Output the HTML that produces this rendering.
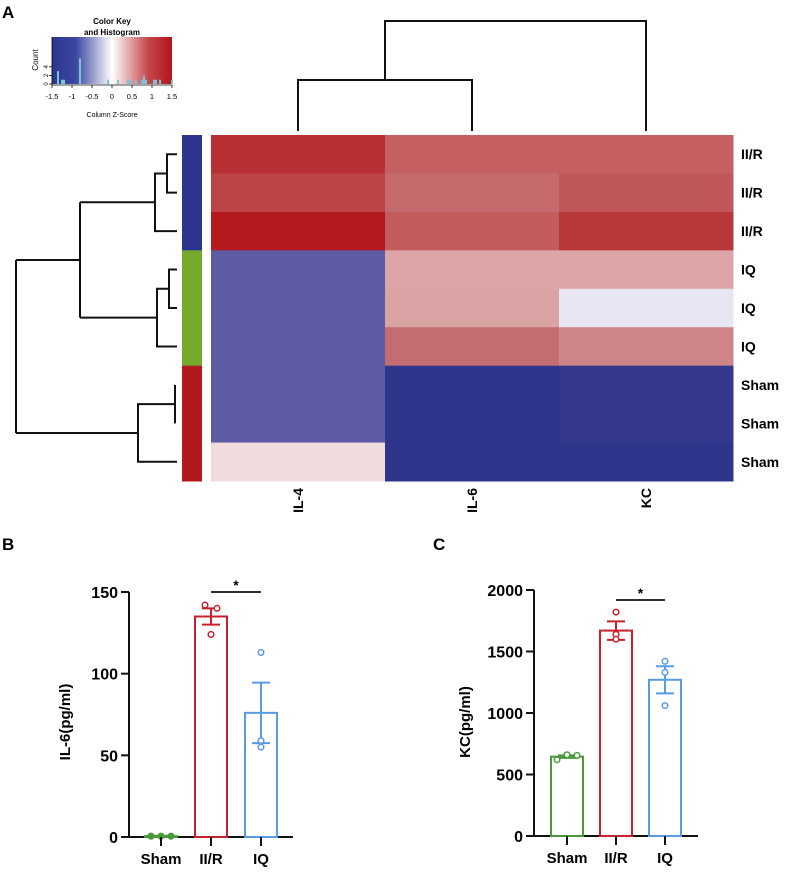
<!DOCTYPE html>
<html><head><meta charset="utf-8"><style>
body{margin:0;background:#fff;}
svg text{font-family:"Liberation Sans",Arial,sans-serif;}
</style></head><body>
<svg id="fig" width="790" height="871" viewBox="0 0 790 871" xmlns="http://www.w3.org/2000/svg">
<g id="panelA">
<text x="2" y="18" font-size="17" font-weight="bold">A</text>
<text x="112" y="24" font-size="8" font-weight="bold" text-anchor="middle">Color Key</text>
<text x="112" y="35" font-size="8" font-weight="bold" text-anchor="middle">and Histogram</text>
<defs><linearGradient id="cg" x1="0" x2="1"><stop offset="0" stop-color="#2b3590"/><stop offset="0.2" stop-color="#3c47a0"/><stop offset="0.5" stop-color="#ffffff"/><stop offset="0.8" stop-color="#c5474c"/><stop offset="1" stop-color="#b2151c"/></linearGradient></defs>
<rect x="52" y="37" width="120" height="47" fill="url(#cg)"/>
<g id="hist"></g>
<line x1="52" y1="37" x2="52" y2="85" stroke="#000" stroke-width="0.8"/>
<line x1="52" y1="85" x2="172" y2="85" stroke="#000" stroke-width="0.8"/>
<text x="38" y="60" font-size="8" text-anchor="middle" transform="rotate(-90 38 60)">Count</text>
<text x="112" y="117" font-size="7" text-anchor="middle">Column Z-Score</text>
<g id="dendro" fill="none" stroke="#111" stroke-width="2"></g>
<g id="heat"></g>
</g>
<g id="panelB"><text x="2" y="550" font-size="17" font-weight="bold">B</text></g>
<g id="panelC"><text x="433" y="550" font-size="17" font-weight="bold">C</text></g>
</svg>
<script>
const NS="http://www.w3.org/2000/svg";
function mk(p,t,a,txt){const e=document.createElementNS(NS,t);for(const k in a)e.setAttribute(k,a[k]);if(txt!==undefined)e.textContent=txt;p.appendChild(e);return e;}

// Color key histogram data
const histZ=[-1.35,-1.25,-1.2,-0.8,-0.1,0.15,0.4,0.45,0.6,0.75,0.8,0.85,1.05,1.1,1.2,1.5];
const histCount=[3,1,1,6,1,1,1,1,1,1,2,1,1,1,1,1];
const keyTicks=[-1.5,-1,-0.5,0,0.5,1,1.5];
const countTicks=[0,2,4];
const kx=z=>52+(z+1.5)*40, ky=c=>84-c*4.3;
const hist=document.getElementById('hist');
histZ.forEach((z,i)=>{const r=mk(hist,'rect',{x:kx(z)-1,y:ky(histCount[i]),width:2,height:84-ky(histCount[i]),fill:'#7ec3cf'});

});
const pA=document.getElementById('panelA');
keyTicks.forEach(t=>{mk(pA,'line',{x1:kx(t),x2:kx(t),y1:85,y2:88,stroke:'#000','stroke-width':0.8});
const l=mk(pA,'text',{x:kx(t),y:99,'font-size':7.5,'text-anchor':'middle'},String(t));

});
countTicks.forEach(c=>{mk(pA,'line',{x1:49,x2:52,y1:ky(c),y2:ky(c),stroke:'#000','stroke-width':0.8});
mk(pA,'text',{x:46,y:ky(c)+2,'font-size':6,'text-anchor':'middle',transform:`rotate(-90 46 ${ky(c)})`},String(c));});

// Heatmap data
const rowLabels=['II/R','II/R','II/R','IQ','IQ','IQ','Sham','Sham','Sham'];
const colLabels=['IL-4','IL-6','KC'];
const groupColors=['#2e358f','#2e358f','#2e358f','#75aa2e','#75aa2e','#75aa2e','#b2191e','#b2191e','#b2191e'];
const colIL4=['#b83034','#bc4446','#b3191e','#5e5ba5','#5e5ba5','#5e5ba5','#5e5ba5','#5e5ba5','#f0dcdc'];
const colIL6=['#c56062','#c56a6d','#c45c5e','#dca6a8','#d9a2a3','#c46d70','#2f358a','#2f358a','#2f358a'];
const colKC=['#c56062','#c0575a','#b8383a','#dca6a8','#e8e6f3','#cf8587','#33388b','#33388b','#2f358a'];
const cols=[colIL4,colIL6,colKC];
const hx0=211,hx1=733,hy0=135,hy1=481;
const cw=(hx1-hx0)/colLabels.length, rh=(hy1-hy0)/rowLabels.length;
const heat=document.getElementById('heat');
cols.forEach((c,j)=>c.forEach((col,i)=>{const r=mk(heat,'rect',{x:hx0+j*cw,y:hy0+i*rh,width:cw+0.5,height:rh+0.5,fill:col});

}));
groupColors.forEach((col,i)=>{const r=mk(heat,'rect',{x:182,y:hy0+i*rh,width:20,height:rh+0.5,fill:col});

});
rowLabels.forEach((t,i)=>{const l=mk(heat,'text',{x:741,y:hy0+(i+0.5)*rh+5,'font-size':14,'font-weight':'bold'},t);

});
colLabels.forEach((t,j)=>{const cx=hx0+(j+0.5)*cw+5;const l=mk(heat,'text',{x:cx,y:488,'font-size':14,'font-weight':'bold','text-anchor':'end',transform:`rotate(-90 ${cx} 488)`},t);

});
const rc=i=>hy0+(i+0.5)*rh, cc=j=>hx0+(j+0.5)*cw;
const dd=document.getElementById('dendro');
const paths=[
`M${cc(0)} 131V80H${cc(1)}V131M${(cc(0)+cc(1))/2} 80V21H${cc(2)}V131`,
`M177 ${rc(0)}H167V${rc(1)}H177M167 ${(rc(0)+rc(1))/2}H155V${rc(2)}H177M155 ${(rc(0)+rc(1))/4+rc(2)/2}H80`,
`M177 ${rc(3)}H169V${rc(4)}H177M169 ${(rc(3)+rc(4))/2}H157V${rc(5)}H177M157 ${(rc(3)+rc(4))/4+rc(5)/2}H80`,
`M80 ${(rc(0)+rc(1))/4+rc(2)/2}V${(rc(3)+rc(4))/4+rc(5)/2}M80 ${((rc(0)+rc(1))/4+rc(2)/2+(rc(3)+rc(4))/4+rc(5)/2)/2}H16`,
`M175 ${rc(6)}V${rc(7)}M175 ${(rc(6)+rc(7))/2}H138V${rc(8)}H177M138 ${(rc(6)+rc(7))/4+rc(8)/2}H16`,
`M16 ${((rc(0)+rc(1))/4+rc(2)/2+(rc(3)+rc(4))/4+rc(5)/2)/2}V${(rc(6)+rc(7))/4+rc(8)/2}`];
paths.forEach(d=>{const p=mk(dd,'path',{d});});

// Bar charts
const groups=['Sham','II/R','IQ'];
const barColors=['#4a9a3a','#c8202e','#5a9be6'];
const il6Means=[0.5,135,76];
const il6Sem=[0.3,5,18.5];
const il6Points=[[0.5,0.5,0.5],[142,124,140],[113,59,55]];
const il6Ticks=[0,50,100,150];
const kcMeans=[645,1670,1270];
const kcSem=[10,75,110];
const kcPoints=[[620,660,655],[1820,1640,1600],[1420,1330,1060]];
const kcTicks=[0,500,1000,1500,2000];

function barChart(gid,o){
 const g=document.getElementById(gid);
 const y=v=>o.y0-(v/o.max)*(o.y0-o.yTop);
 const x=i=>o.cx0+i*o.step;
 mk(g,'line',{x1:o.ax,x2:o.ax,y1:o.yTop,y2:o.y0,stroke:'#111','stroke-width':2});
 mk(g,'line',{x1:o.ax-8,x2:o.axEnd,y1:o.y0,y2:o.y0,stroke:'#111','stroke-width':2});
 o.ticks.forEach(t=>{mk(g,'line',{x1:o.ax-8,x2:o.ax,y1:y(t),y2:y(t),stroke:'#111','stroke-width':2});
  const l=mk(g,'text',{x:o.ax-11,y:y(t)+6,'font-size':16,'font-weight':'bold','text-anchor':'end'},String(t));
  
  });
 const yl=mk(g,'text',{x:o.ylx,y:o.yly,'font-size':15,'font-weight':'bold','text-anchor':'middle',transform:`rotate(-90 ${o.ylx} ${o.yly})`},o.ylabel);
 
 
 groups.forEach((gr,i)=>{
  const c=barColors[i],cx=x(i),bw=32;
  const b=mk(g,'rect',{x:cx-bw/2,y:y(o.means[i]),width:bw,height:o.y0-y(o.means[i]),fill:'none',stroke:c,'stroke-width':2});
  
  
  const top=y(o.means[i]+o.sem[i]),bot=y(o.means[i]-o.sem[i]);
  const e=mk(g,'path',{d:`M${cx} ${top}V${bot}M${cx-9} ${top}H${cx+9}M${cx-9} ${bot}H${cx+9}`,stroke:c,'stroke-width':2,fill:'none'});
  
  
  const jit=o.jitter[i];
  o.points[i].forEach((v,k)=>{const p=mk(g,'circle',{cx:cx+(k==1&&i>0?0:(k-1)*jit),cy:y(v),r:2.8,fill:i==0&&gid=='panelB'?c:'#fff',stroke:c,'stroke-width':1.5});
   
   });
  mk(g,'line',{x1:cx,x2:cx,y1:o.y0,y2:o.y0+9,stroke:'#111','stroke-width':2});
  const l=mk(g,'text',{x:cx,y:o.y0+27,'font-size':15,'font-weight':'bold','text-anchor':'middle'},gr);
  
  
 });
 const s=mk(g,'line',{x1:x(1),x2:x(2),y1:o.sigY,y2:o.sigY,stroke:'#111','stroke-width':1.8});
 
 
 mk(g,'text',{x:(x(1)+x(2))/2,y:o.sigY-2,'font-size':14,'font-weight':'bold','text-anchor':'middle'},'*');
}
barChart('panelB',{ax:129,axEnd:293,y0:837,yTop:592,max:150,cx0:161,step:50,ticks:il6Ticks,means:il6Means,sem:il6Sem,points:il6Points,jitter:[10,6,0],ylabel:'IL-6(pg/ml)',ylx:70,yly:722,sigY:592});
barChart('panelC',{ax:534,axEnd:698,y0:836,yTop:590,max:2000,cx0:567,step:49,ticks:kcTicks,means:kcMeans,sem:kcSem,points:kcPoints,jitter:[10,0,0],ylabel:'KC(pg/ml)',ylx:470,yly:722,sigY:600});
</script>
</body></html>
